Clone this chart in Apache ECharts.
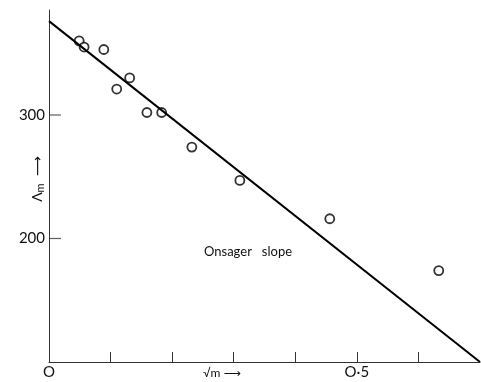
<!DOCTYPE html>
<html>
<head>
<meta charset="utf-8">
<script src="https://cdn.jsdelivr.net/npm/echarts@6/dist/echarts.min.js"></script>
<style>
  html, body { margin: 0; padding: 0; background: #fff; }
  #chart { width: 481px; height: 382px; }
</style>
</head>
<body>
<div id="chart"></div>
<script>
// measured points: sqrt(m) vs molar conductivity
const sqrtM = [0.049, 0.057, 0.089, 0.110, 0.131, 0.159, 0.183, 0.232, 0.310, 0.456, 0.633];
const lambdaM = [360, 355, 353, 321, 330, 302, 302, 274, 247, 216, 174];
// Onsager limiting slope line
const slopeX = [0, 0.7];
const slopeY = [376, 100];
const yTicks = [200, 300];

const chart = echarts.init(document.getElementById('chart'));
const font = 'Lato, "DejaVu Sans", sans-serif';

chart.setOption({
  animation: false,
  grid: { left: 49, right: 1, top: 10, bottom: 20, containLabel: false, outerBoundsMode: 'none' },
  xAxis: {
    type: 'value',
    min: 0, max: 0.7, interval: 0.1,
    axisLine: { lineStyle: { color: '#333', width: 1 } },
    axisTick: { inside: true, length: 10, lineStyle: { color: '#333' } },
    splitLine: { show: false },
    axisLabel: {
      color: '#111', fontSize: 15, fontFamily: font, margin: 3,
      showMaxLabel: false,
      formatter: v => (v === 0 ? 'O' : Math.abs(v - 0.5) < 1e-6 ? 'O·5' : '')
    }
  },
  yAxis: {
    type: 'value',
    min: 100, max: 385, interval: 100,
    axisLine: { show: true, lineStyle: { color: '#333', width: 1 } },
    axisTick: { show: false },
    splitLine: { show: false },
    axisLabel: {
      color: '#111', fontSize: 15, fontFamily: font, margin: 4,
      showMaxLabel: false,
      formatter: v => (yTicks.includes(v) ? String(v) : '')
    }
  },
  series: [
    {
      type: 'line',
      data: slopeX.map((x, i) => [x, slopeY[i]]),
      showSymbol: false,
      lineStyle: { color: '#000', width: 2 },
      silent: true
    },
    {
      type: 'scatter',
      data: sqrtM.map((x, i) => [x, lambdaM[i]]),
      symbol: 'circle',
      symbolSize: 9,
      itemStyle: { color: '#fff', borderColor: '#000', borderWidth: 1.8 }
    },
    {
      // short inward ticks on the y-axis at the labelled values
      type: 'scatter',
      data: yTicks.map(v => [0, v]),
      symbol: 'rect',
      symbolSize: [12, 1.2],
      symbolOffset: [6, 0],
      itemStyle: { color: '#333' },
      silent: true
    }
  ],
  graphic: [
    {
      type: 'text', x: 37, y: 179, rotation: Math.PI / 2,
      style: {
        text: '{a|Λ}{s|m}{a|  ⟶}',
        align: 'center', verticalAlign: 'middle',
        rich: {
          a: { fontSize: 14, fontFamily: font, fill: '#111' },
          s: { fontSize: 11, fontFamily: font, fill: '#111', padding: [6, 0, 0, 0] }
        }
      }
    },
    {
      type: 'text', left: 204, top: 245,
      style: { text: 'Onsager   slope', fontSize: 13, fontFamily: font, fill: '#111' }
    },
    {
      type: 'text', left: 203, top: 367,
      style: { text: '√m ⟶', fontSize: 12, fontFamily: font, fill: '#111' }
    }
  ]
});
</script>
</body>
</html>
